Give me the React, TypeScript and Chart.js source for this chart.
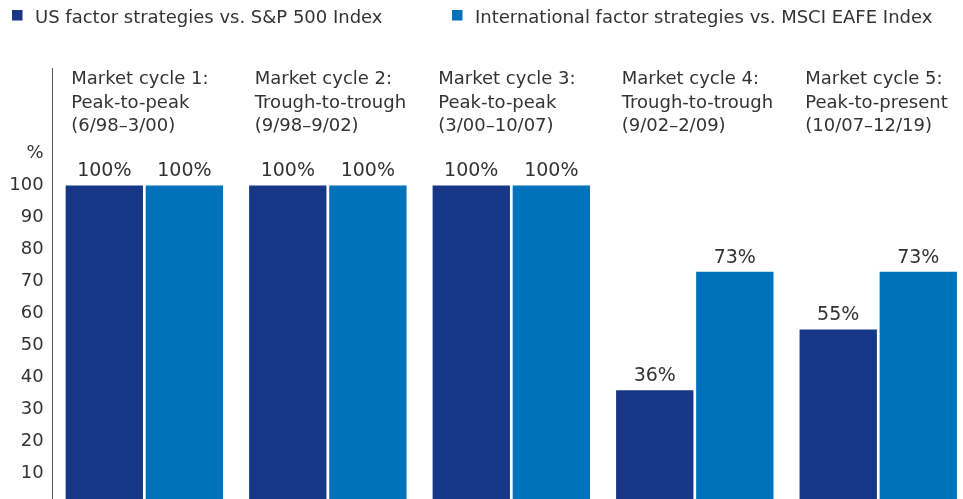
import React, { useEffect, useRef } from "react";
import { Chart, registerables } from "chart.js";

Chart.register(...registerables);

// ---- data ----
const seriesNames = [
  "US factor strategies vs. S&P 500 Index",
  "International factor strategies vs. MSCI EAFE Index",
];
const categoryLine1 = [
  "Market cycle 1:",
  "Market cycle 2:",
  "Market cycle 3:",
  "Market cycle 4:",
  "Market cycle 5:",
];
const categoryLine2 = [
  "Peak-to-peak",
  "Trough-to-trough",
  "Peak-to-peak",
  "Trough-to-trough",
  "Peak-to-present",
];
const categoryLine3 = [
  "(6/98–3/00)",
  "(9/98–9/02)",
  "(3/00–10/07)",
  "(9/02–2/09)",
  "(10/07–12/19)",
];
const usValues = [100, 100, 100, 36, 55];
const intlValues = [100, 100, 100, 73, 73];
const yTickValues = [10, 20, 30, 40, 50, 60, 70, 80, 90, 100];
const yUnitLabel = "%";

// ---- style ----
const DARK = "#173786";
const LIGHT = "#0071BB";
const TEXT = "#333333";
const FONT = "DejaVu Sans";
const CAT_PCT = 0.8727;
const BAR_PCT = 0.966;

const overlayPlugin = {
  id: "overlay",
  afterDraw(chart: any) {
    const ctx = chart.ctx as CanvasRenderingContext2D;
    ctx.save();
    ctx.fillStyle = TEXT;

    // value labels
    ctx.font = `19px "${FONT}"`;
    ctx.textAlign = "center";
    ctx.textBaseline = "alphabetic";
    chart.data.datasets.forEach((ds: any, di: number) => {
      const meta = chart.getDatasetMeta(di);
      meta.data.forEach((bar: any, i: number) => {
        ctx.fillText(`${ds.data[i]}%`, bar.x, bar.y - 9);
      });
    });

    // category labels
    const xs = chart.scales.x;
    const n = chart.data.labels.length;
    const catW = xs.width / n;
    ctx.font = `18px "${FONT}"`;
    ctx.textAlign = "left";
    for (let i = 0; i < n; i++) {
      const left = xs.getPixelForValue(i) - (catW * CAT_PCT) / 2 + 7;
      ctx.fillText(categoryLine1[i], left, 84);
      ctx.fillText(categoryLine2[i], left, 107.5);
      ctx.fillText(categoryLine3[i], left, 131);
    }

    // legend
    const legendX = [12, 452];
    chart.data.datasets.forEach((ds: any, di: number) => {
      ctx.fillStyle = ds.backgroundColor;
      ctx.fillRect(legendX[di], 10, 10.5, 10.5);
      ctx.fillStyle = TEXT;
      ctx.font = `18px "${FONT}"`;
      ctx.fillText(ds.label, legendX[di] + 23, 22.5);
    });
    ctx.restore();
  },
};

export default function App() {
  const ref = useRef<HTMLCanvasElement>(null);
  useEffect(() => {
    const chart = new Chart(ref.current!, {
      type: "bar",
      data: {
        labels: categoryLine1.map((l, i) => `${l} ${categoryLine2[i]} ${categoryLine3[i]}`),
        datasets: [
          {
            label: seriesNames[0],
            data: usValues,
            backgroundColor: DARK,
            categoryPercentage: CAT_PCT,
            barPercentage: BAR_PCT,
          },
          {
            label: seriesNames[1],
            data: intlValues,
            backgroundColor: LIGHT,
            categoryPercentage: CAT_PCT,
            barPercentage: BAR_PCT,
          },
        ],
      },
      options: {
        responsive: false,
        animation: false,
        layout: { padding: { top: 68, right: 0, bottom: 20.5, left: 0 } },
        plugins: { legend: { display: false }, tooltip: { enabled: false } },
        scales: {
          x: { display: false, offset: true },
          y: {
            min: 0,
            max: 136.7,
            border: { display: true, color: "#555555", width: 1 },
            grid: { display: false, drawTicks: false },
            afterFit: (s: any) => {
              s.width = 52.6;
            },
            ticks: {
              stepSize: 10,
              padding: 9,
              color: TEXT,
              font: { family: FONT, size: 18 },
              callback: (v: any) => {
                if (v === 110) return yUnitLabel;
                return yTickValues.includes(v) ? String(v) : "";
              },
            },
          },
        },
      },
      plugins: [overlayPlugin],
    });
    return () => chart.destroy();
  }, []);

  return (
    <div
      style={{
        position: "absolute",
        left: 0,
        top: 0,
        width: 963,
        height: 499,
        overflow: "hidden",
        background: "#fff",
      }}
    >
      <canvas ref={ref} width={970} height={526} style={{ display: "block" }} />
    </div>
  );
}
